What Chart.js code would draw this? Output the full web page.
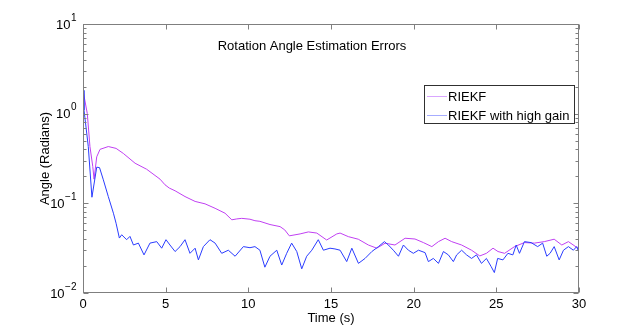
<!DOCTYPE html>
<html>
<head>
<meta charset="utf-8">
<script src="https://cdn.jsdelivr.net/npm/chart.js@4.4.1/dist/chart.umd.min.js"></script>
<style>
  html, body { margin: 0; padding: 0; background: #fff; }
  #wrap { width: 640px; height: 330px; }
</style>
</head>
<body>
<div id="wrap"><canvas id="errChart" width="640" height="330"></canvas></div>
<script>
// Values (time in s, angle error in radians)
const riekfT = [0, 0.26, 0.42, 0.59, 0.67, 0.83, 1.03, 1.53, 2.0, 2.44, 3.15, 3.85, 4.66, 4.96, 5.22,
  5.57, 6.17, 6.78, 7.38, 7.99, 8.59, 9.0, 9.3, 9.6, 10.1, 10.4, 10.7, 11.31, 11.92, 12.2, 12.48,
  13.13, 13.63, 14.14, 14.74, 15.35, 15.55, 16.05, 16.65, 17.26, 17.77, 18.27, 18.87, 19.48, 20.08,
  20.59, 21.1, 21.5, 21.9, 22.3, 22.9, 23.5, 24.0, 24.4, 24.8, 25.1, 25.5, 26.1, 26.7, 27.3, 27.9,
  28.5, 28.96, 29.36, 30.0];
const riekfV = [1.82, 1.0, 0.43, 0.258, 0.186, 0.33, 0.40, 0.43, 0.41, 0.36, 0.28, 0.24, 0.186, 0.161, 0.148,
  0.138, 0.119, 0.105, 0.0987, 0.088, 0.0776, 0.0655, 0.067, 0.068, 0.0665, 0.064, 0.063, 0.058, 0.055, 0.0506, 0.0434,
  0.0456, 0.048, 0.0466, 0.039, 0.0456, 0.0466, 0.0425, 0.0398, 0.0343, 0.0316, 0.0359, 0.0343, 0.0408, 0.040,
  0.0365, 0.0329, 0.0374, 0.0408, 0.0374, 0.0343, 0.030, 0.0259, 0.0277, 0.0316, 0.029, 0.0277, 0.0329, 0.0365, 0.036, 0.0374,
  0.0398, 0.0343, 0.0374, 0.031];

const highGainT = [0, 0.06, 0.32, 0.54, 0.83, 1.0, 1.23, 1.53, 1.84, 2.0, 2.2, 2.34, 2.64, 2.84, 3.05, 3.35,
  3.69, 4.05, 4.46, 4.76, 5.02, 5.26, 5.57, 5.87, 6.17, 6.47, 6.78, 6.98, 7.28, 7.68, 7.99, 8.39, 8.79,
  9.2, 9.7, 10.1, 10.4, 10.7, 11.0, 11.31, 11.72, 12.02, 12.32, 12.62, 12.93, 13.23, 13.53, 13.84, 14.23,
  14.54, 14.94, 15.24, 15.55, 15.95, 16.26, 16.66, 17.06, 17.47, 17.87, 18.23, 18.47, 18.77, 19.08, 19.38,
  19.68, 19.98, 20.29, 20.69, 20.89, 21.19, 21.5, 21.8, 22.1, 22.4, 22.6, 22.9, 23.2, 23.5, 23.8, 24.1,
  24.4, 24.68, 24.88, 25.08, 25.4, 25.7, 26.0, 26.2, 26.4, 26.7, 27.1, 27.5, 27.8, 28.05, 28.25, 28.5,
  28.8, 29.06, 29.36, 29.66, 29.86, 30.0];
const highGainV = [1.82, 1.1, 0.43, 0.117, 0.253, 0.25, 0.183, 0.119, 0.0776, 0.06, 0.041, 0.0446, 0.0393, 0.0428, 0.0343, 0.036,
  0.0266, 0.036, 0.0374, 0.0316, 0.0393, 0.0343, 0.029, 0.0329, 0.0393, 0.0277, 0.0316, 0.0234, 0.0329, 0.0393, 0.036, 0.0277, 0.030,
  0.0257, 0.0329, 0.032, 0.0329, 0.030, 0.0194, 0.0257, 0.030, 0.0205, 0.0277, 0.036, 0.029, 0.0186, 0.0257, 0.030, 0.0393,
  0.030, 0.0316, 0.031, 0.030, 0.0224, 0.0316, 0.0214, 0.0243, 0.029, 0.0329, 0.0374, 0.0343, 0.030, 0.0257, 0.0343,
  0.030, 0.0277, 0.030, 0.0282, 0.0224, 0.0243, 0.0214, 0.029, 0.0266, 0.0224, 0.0266, 0.030, 0.0266, 0.0243, 0.0266, 0.0214,
  0.0243, 0.0198, 0.0169, 0.0243, 0.0234, 0.0277, 0.0266, 0.0343, 0.0277, 0.0374, 0.0365, 0.0329, 0.036, 0.0257, 0.0277, 0.0329,
  0.0234, 0.030, 0.0329, 0.030, 0.0329, 0.0282];

const seriesLabels = ['RIEKF', 'RIEKF with high gain'];
const xTicks = [0, 5, 10, 15, 20, 25, 30];
const yDecades = [-2, -1, 0, 1];

const FONT = "'Liberation Sans', Arial, Helvetica, sans-serif";
const AXIS_GRAY = '#7f7f7f';

const toPoints = (ts, vs) => ts.map((t, i) => ({ x: t, y: vs[i] }));

// MATLAB style box, inward ticks, 10^n labels, in-axes title and legend
const matlabFrame = {
  id: 'matlabFrame',
  afterDatasetsDraw(chart) {
    const { ctx, chartArea: a, scales: { x, y } } = chart;
    ctx.save();
    ctx.strokeStyle = AXIS_GRAY;
    ctx.lineWidth = 1;
    const L = Math.round(a.left) + 0.5, R = Math.round(a.right) - 0.5;
    const T = Math.round(a.top) + 0.5, B = Math.round(a.bottom) - 0.5;
    ctx.strokeRect(L, T, R - L, B - T);

    ctx.beginPath();
    xTicks.forEach(v => {
      const px = Math.round(x.getPixelForValue(v)) + 0.5;
      ctx.moveTo(px, B); ctx.lineTo(px, B - 5);
      ctx.moveTo(px, T); ctx.lineTo(px, T + 5);
    });
    yDecades.forEach(e => {
      const py = Math.round(y.getPixelForValue(Math.pow(10, e))) + 0.5;
      ctx.moveTo(L, py); ctx.lineTo(L + 5, py);
      ctx.moveTo(R, py); ctx.lineTo(R - 5, py);
      if (e < 1) {
        for (let m = 2; m <= 9; m++) {
          const pm = Math.round(y.getPixelForValue(m * Math.pow(10, e))) + 0.5;
          ctx.moveTo(L, pm); ctx.lineTo(L + 3, pm);
          ctx.moveTo(R, pm); ctx.lineTo(R - 3, pm);
        }
      }
    });
    ctx.stroke();

    // y tick labels 10^n
    ctx.fillStyle = '#000';
    ctx.textBaseline = 'middle';
    ctx.textAlign = 'left';
    yDecades.forEach(e => {
      const py = y.getPixelForValue(Math.pow(10, e));
      const expStr = e < 0 ? '\u2212' + Math.abs(e) : String(e);
      ctx.font = '10px ' + FONT;
      const ew = ctx.measureText(expStr).width;
      ctx.font = '13px ' + FONT;
      const bw = ctx.measureText('10').width;
      const x0 = 76 - ew - bw;
      ctx.fillText('10', x0, py + 1);
      ctx.font = '10px ' + FONT;
      ctx.fillText(expStr, x0 + bw + 0.5, py - 6);
    });

    // title inside the axes
    ctx.font = '13px ' + FONT;
    ctx.textAlign = 'center';
    ctx.fillText('Rotation Angle Estimation Errors', 312, 46);

    // legend
    const lx = 424.5, ly = 85.5, lw = 150, lh = 38;
    ctx.fillStyle = '#fff';
    ctx.fillRect(lx, ly, lw, lh);
    ctx.strokeStyle = '#303030';
    ctx.strokeRect(lx, ly, lw, lh);
    const legendColors = ['#d9a6ff', '#a6acff'];
    seriesLabels.forEach((lab, i) => {
      const cy = Math.round(ly + 10 + i * 19) + 0.5;
      ctx.strokeStyle = legendColors[i];
      ctx.beginPath();
      ctx.moveTo(427, cy); ctx.lineTo(447, cy);
      ctx.stroke();
      ctx.fillStyle = '#000';
      ctx.textAlign = 'left';
      ctx.font = '13px ' + FONT;
      ctx.fillText(lab, 448, cy + 0.5);
    });
    ctx.restore();
  }
};

function initChart() {
  Chart.defaults.font.family = FONT;
  Chart.defaults.color = '#000';

  new Chart(document.getElementById('errChart'), {
    type: 'line',
    data: {
      datasets: [
        {
          label: seriesLabels[0],
          data: toPoints(riekfT, riekfV),
          borderColor: '#c040f2',
          borderWidth: 1,
          pointRadius: 0,
          tension: 0,
          order: 1
        },
        {
          label: seriesLabels[1],
          data: toPoints(highGainT, highGainV),
          borderColor: '#2a3cff',
          borderWidth: 1,
          pointRadius: 0,
          tension: 0,
          order: 0
        }
      ]
    },
    options: {
      responsive: false,
      animation: false,
      layout: { padding: { top: 24, right: 61, left: 0, bottom: 0 } },
      plugins: { legend: { display: false }, tooltip: { enabled: false } },
      scales: {
        x: {
          type: 'linear',
          min: 0,
          max: 30,
          afterBuildTicks: (s) => { s.ticks = xTicks.map(v => ({ value: v })); },
          afterFit: (s) => { s.height = 37; },
          grid: { display: false, drawTicks: false },
          border: { display: false },
          ticks: { font: { size: 13 }, color: '#000', padding: 4, maxRotation: 0 },
          title: { display: true, text: 'Time (s)', font: { size: 13 }, color: '#000', padding: { top: 0, bottom: 4 } }
        },
        y: {
          type: 'logarithmic',
          min: 0.01,
          max: 10,
          afterFit: (s) => { s.width = 83; },
          grid: { display: false, drawTicks: false },
          border: { display: false },
          ticks: { display: false },
          title: { display: true, text: 'Angle (Radians)', font: { size: 13 }, color: '#000', padding: { top: 38, bottom: 0 } }
        }
      }
    },
    plugins: [matlabFrame]
  });
}

document.addEventListener('DOMContentLoaded', initChart);
</script>
</body>
</html>
